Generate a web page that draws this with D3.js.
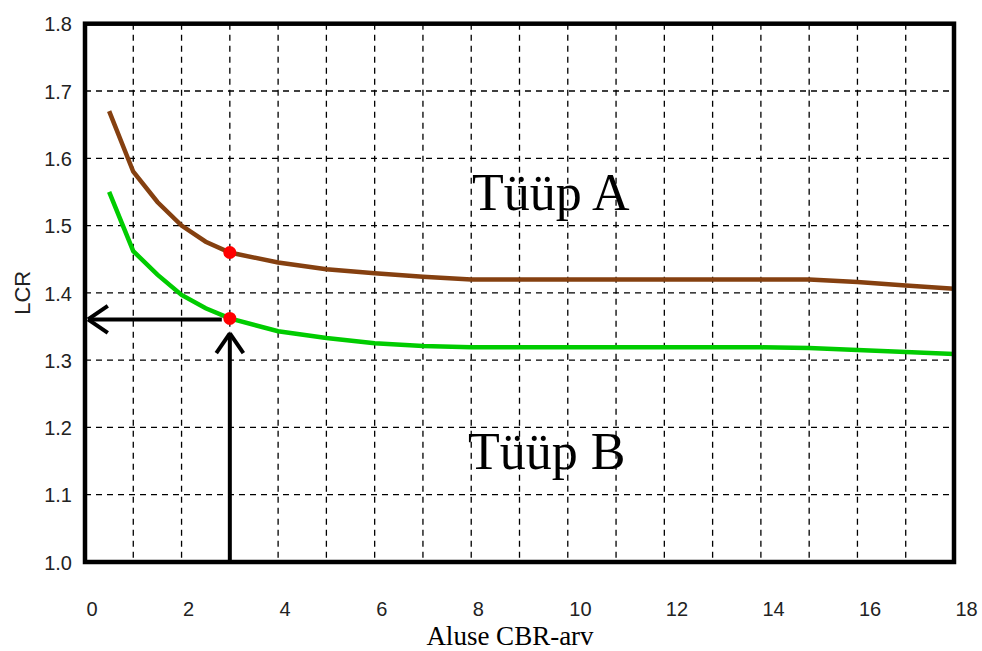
<!DOCTYPE html>
<html>
<head>
<meta charset="utf-8">
<script src="https://cdn.jsdelivr.net/npm/d3@7"></script>
<style>
  body { margin: 0; background: #fff; }
  svg { display: block; }
</style>
</head>
<body>
<div id="chart"></div>
<script>
// data
const cbr  = [0.5, 1, 1.5, 2, 2.5, 3, 4, 5, 6, 7, 8, 9, 10, 11, 12, 13, 14, 15, 16, 17, 18];
const lcrA = [1.67, 1.58, 1.535, 1.50, 1.476, 1.46, 1.445, 1.435, 1.429, 1.424, 1.42, 1.42, 1.42, 1.42, 1.42, 1.42, 1.42, 1.42, 1.416, 1.411, 1.406];
const lcrB = [1.55, 1.462, 1.427, 1.397, 1.377, 1.362, 1.343, 1.333, 1.325, 1.321, 1.319, 1.319, 1.319, 1.319, 1.319, 1.319, 1.319, 1.318, 1.315, 1.312, 1.309];

const xTicks = [0, 2, 4, 6, 8, 10, 12, 14, 16, 18];
const yTicks = [1.0, 1.1, 1.2, 1.3, 1.4, 1.5, 1.6, 1.7, 1.8];

// reading at CBR = 3
const pickX = 3;
const pickA = 1.46;
const pickB = 1.362;

const W = 982, H = 651;
const plotL = 85, plotR = 954, plotT = 23.7, plotB = 562;

const svg = d3.select('#chart')
    .append('svg')
    .attr('width', W)
    .attr('height', H);

const x = d3.scaleLinear().domain([0, 18]).range([plotL, plotR]);
const y = d3.scaleLinear().domain([1.0, 1.8]).range([plotB, plotT]);

// dashed grid
svg.append('g')
    .selectAll('line')
    .data(d3.range(1, 18))
    .join('line')
    .attr('x1', d => x(d)).attr('x2', d => x(d))
    .attr('y1', plotT).attr('y2', plotB)
    .attr('stroke', '#000')
    .attr('stroke-width', 1.3)
    .attr('stroke-dasharray', '6,5');

svg.append('g')
    .selectAll('line')
    .data(yTicks.slice(1, -1))
    .join('line')
    .attr('x1', plotL).attr('x2', plotR)
    .attr('y1', d => y(d)).attr('y2', d => y(d))
    .attr('stroke', '#000')
    .attr('stroke-width', 1.3)
    .attr('stroke-dasharray', '6,5');

// axes labels via d3 axes
const xAxis = d3.axisBottom(x).tickValues(xTicks).tickSize(0).tickPadding(0).tickFormat(d3.format('d'));
svg.append('g')
    .attr('transform', `translate(0, ${plotB})`)
    .call(xAxis)
    .call(g => g.select('.domain').remove())
    .selectAll('text')
    .attr('text-anchor', 'start')
    .attr('dx', 1)
    .attr('y', 54)
    .attr('dy', 0)
    .style('font-family', '"Liberation Sans", Arial, sans-serif')
    .style('font-size', '20px')
    .attr('fill', '#222');

const yAxis = d3.axisLeft(y).tickValues(yTicks).tickSize(0).tickPadding(0).tickFormat(d3.format('.1f'));
svg.append('g')
    .attr('transform', `translate(72, 0)`)
    .call(yAxis)
    .call(g => g.select('.domain').remove())
    .selectAll('text')
    .attr('x', 0)
    .attr('dy', '0.36em')
    .style('font-family', '"Liberation Sans", Arial, sans-serif')
    .style('font-size', '20px')
    .attr('fill', '#222');

// curves
const line = d3.line()
    .x((d, i) => x(cbr[i]))
    .y(d => y(d));

svg.append('path')
    .datum(lcrA)
    .attr('fill', 'none')
    .attr('stroke', '#854010')
    .attr('stroke-width', 4.5)
    .attr('d', line);

svg.append('path')
    .datum(lcrB)
    .attr('fill', 'none')
    .attr('stroke', '#00cc00')
    .attr('stroke-width', 4.5)
    .attr('d', line);

// arrows
const arrow = (x1, y1, x2, y2, barb) => {
    const g = svg.append('g')
        .attr('stroke', '#000')
        .attr('stroke-width', 4)
        .attr('fill', 'none');
    g.append('line').attr('x1', x1).attr('y1', y1).attr('x2', x2).attr('y2', y2);
    const a = Math.atan2(y2 - y1, x2 - x1);
    [0.6, -0.6].forEach(s => {
        g.append('line')
            .attr('x1', x2).attr('y1', y2)
            .attr('x2', x2 - barb * Math.cos(a + s))
            .attr('y2', y2 - barb * Math.sin(a + s));
    });
};
arrow(x(pickX) - 8, y(pickB) + 1, x(0) + 3, y(pickB) + 1, 24);
arrow(x(pickX), plotB, x(pickX), y(pickB) + 15, 24);

// picked points
svg.selectAll('circle.pick')
    .data([pickA, pickB])
    .join('circle')
    .attr('class', 'pick')
    .attr('cx', x(pickX))
    .attr('cy', d => y(d))
    .attr('r', 6.5)
    .attr('fill', '#ff0000');

// frame
svg.append('rect')
    .attr('x', plotL).attr('y', plotT)
    .attr('width', plotR - plotL).attr('height', plotB - plotT)
    .attr('fill', 'none')
    .attr('stroke', '#000')
    .attr('stroke-width', 4.5);

// labels
svg.append('text')
    .attr('x', 510)
    .attr('y', 645)
    .attr('text-anchor', 'middle')
    .style('font-family', '"Liberation Serif", "Times New Roman", serif')
    .style('font-size', '27px')
    .text('Aluse CBR-arv');

svg.append('text')
    .attr('transform', `translate(30, ${(plotT + plotB) / 2}) rotate(-90)`)
    .attr('text-anchor', 'middle')
    .style('font-family', '"Liberation Sans", Arial, sans-serif')
    .style('font-size', '22px')
    .attr('fill', '#222')
    .text('LCR');

svg.append('text')
    .attr('x', 472)
    .attr('y', 210)
    .style('font-family', '"Liberation Serif", "Times New Roman", serif')
    .style('font-size', '52px')
    .text('Tüüp A');

svg.append('text')
    .attr('x', 468)
    .attr('y', 469)
    .style('font-family', '"Liberation Serif", "Times New Roman", serif')
    .style('font-size', '52px')
    .text('Tüüp B');
</script>
</body>
</html>
